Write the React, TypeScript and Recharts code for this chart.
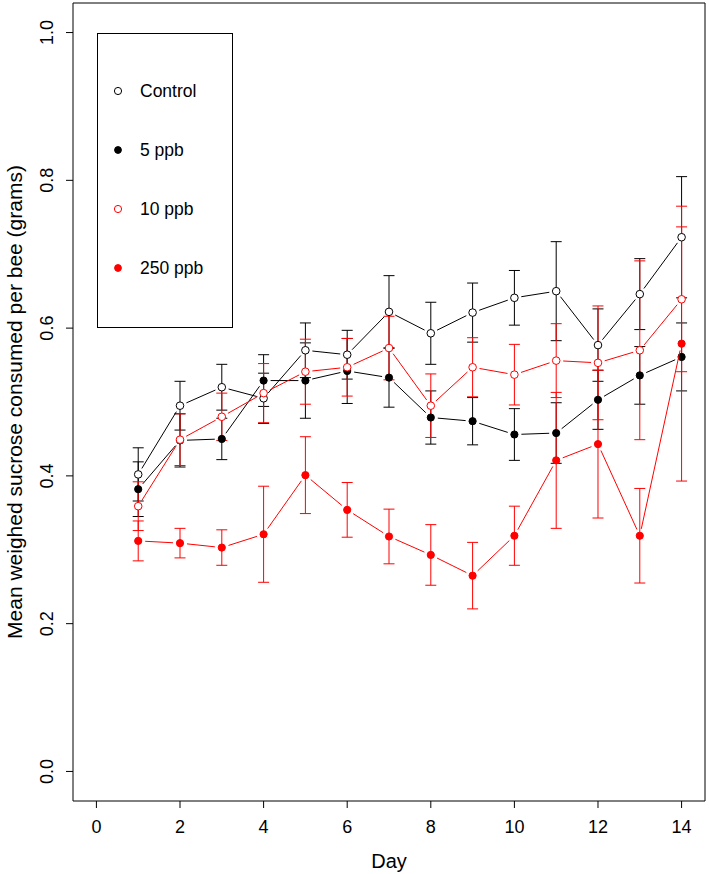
import React from 'react'
import { LineChart, Line, XAxis, YAxis, ErrorBar, Legend, ReferenceArea } from 'recharts'

const days = [1, 2, 3, 4, 5, 6, 7, 8, 9, 10, 11, 12, 13, 14]

const controlMean = [0.402, 0.495, 0.52, 0.505, 0.57, 0.564, 0.622, 0.593, 0.621, 0.641, 0.65, 0.577, 0.646, 0.723]
const controlSe = [0.036, 0.033, 0.031, 0.034, 0.037, 0.033, 0.049, 0.042, 0.04, 0.037, 0.067, 0.049, 0.048, 0.082]

const ppb5Mean = [0.382, 0.448, 0.45, 0.529, 0.529, 0.542, 0.533, 0.479, 0.474, 0.456, 0.458, 0.503, 0.536, 0.561]
const ppb5Se = [0.037, 0.036, 0.028, 0.035, 0.051, 0.044, 0.04, 0.036, 0.032, 0.035, 0.041, 0.04, 0.039, 0.046]

const ppb10Mean = [0.359, 0.449, 0.48, 0.512, 0.541, 0.547, 0.573, 0.495, 0.547, 0.537, 0.556, 0.553, 0.57, 0.639]
const ppb10Se = [0.033, 0.035, 0.032, 0.04, 0.044, 0.039, 0.043, 0.043, 0.04, 0.041, 0.05, 0.077, 0.121, 0.098]

const ppb250Mean = [0.312, 0.309, 0.303, 0.321, 0.401, 0.354, 0.318, 0.293, 0.265, 0.319, 0.421, 0.443, 0.319, 0.579]
const ppb250Se = [0.027, 0.02, 0.024, 0.065, 0.052, 0.037, 0.037, 0.041, 0.045, 0.04, 0.092, 0.1, 0.064, 0.186]

const xTicks = [0, 2, 4, 6, 8, 10, 12, 14]
const yTicks = [0, 0.2, 0.4, 0.6, 0.8, 1.0]

const series = [
  { key: 'control', name: 'Control', color: '#000000', filled: false, mean: controlMean, se: controlSe },
  { key: 'ppb5', name: '5 ppb', color: '#000000', filled: true, mean: ppb5Mean, se: ppb5Se },
  { key: 'ppb10', name: '10 ppb', color: '#ff0000', filled: false, mean: ppb10Mean, se: ppb10Se },
  { key: 'ppb250', name: '250 ppb', color: '#ff0000', filled: true, mean: ppb250Mean, se: ppb250Se },
]

const data = days.map((day, i) => {
  const row: Record<string, number> = { day }
  series.forEach((s) => {
    row[s.key] = s.mean[i]
    row[s.key + 'Err'] = s.se[i]
  })
  return row
})

const FONT = '"Liberation Sans", Arial, Helvetica, sans-serif'

// R style type="b": segments stop short of each point
const makeDot = (color: string, filled: boolean) => (props: any) => {
  const { cx, cy, index, points } = props
  const gap = 7
  let seg = null
  if (points && index < points.length - 1) {
    const nx = points[index + 1].x
    const ny = points[index + 1].y
    const dx = nx - cx
    const dy = ny - cy
    const len = Math.hypot(dx, dy)
    if (len > gap * 2) {
      seg = (
        <line
          x1={cx + (dx / len) * gap}
          y1={cy + (dy / len) * gap}
          x2={nx - (dx / len) * gap}
          y2={ny - (dy / len) * gap}
          stroke={color}
          strokeWidth={1}
        />
      )
    }
  }
  return (
    <g key={`dot-${index}`}>
      {seg}
      <circle cx={cx} cy={cy} r={filled ? 3.6 : 3.8} fill={filled ? color : '#fff'} stroke={color} strokeWidth={1} />
    </g>
  )
}

const YTick = (props: any) => {
  const { x, y, payload } = props
  return (
    <text
      transform={`translate(${x}, ${y}) rotate(-90)`}
      textAnchor="middle"
      fontSize={18}
      fontFamily={FONT}
      fill="#000"
    >
      {Number(payload.value).toFixed(1)}
    </text>
  )
}

const renderLegend = (props: any) => {
  const payload = props.payload || []
  return (
    <svg width={136} height={295} style={{ display: 'block' }}>
      <rect x={0.5} y={0.5} width={135} height={294} fill="#fff" stroke="#000" strokeWidth={1} />
      {series.map((s, i) => {
        const entry = payload.find((p: any) => p.value === s.name)
        const cy = 58 + i * 59
        return (
          <g key={s.key}>
            <circle cx={21} cy={cy} r={s.filled ? 3.4 : 3.6} fill={s.filled ? s.color : '#fff'} stroke={s.color} />
            <text x={43} y={cy + 6} fontSize={17.5} fontFamily={FONT} fill="#000">
              {entry ? entry.value : s.name}
            </text>
          </g>
        )
      })}
    </svg>
  )
}

export default function App() {
  return (
    <div style={{ position: 'absolute', left: 0, top: 0, background: '#fff' }}>
      <LineChart width={709} height={874} data={data} margin={{ top: 3, right: 4, bottom: 0, left: 0 }}>
        <ReferenceArea x1={-0.56} x2={14.56} y1={-0.04} y2={1.04} fill="none" stroke="#000" strokeWidth={1} />
        <XAxis
          dataKey="day"
          type="number"
          domain={[-0.56, 14.56]}
          ticks={xTicks}
          height={73}
          axisLine={false}
          tickLine={{ stroke: '#000' }}
          tickSize={7}
          tickMargin={12}
          tick={{ fontSize: 18, fill: '#000', fontFamily: FONT }}
          allowDataOverflow
          label={{ value: 'Day', position: 'center', dy: 23, style: { fontSize: 20, fill: '#000', fontFamily: FONT } }}
        />
        <YAxis
          type="number"
          domain={[-0.04, 1.04]}
          ticks={yTicks}
          width={73}
          axisLine={false}
          tickLine={{ stroke: '#000' }}
          tickSize={7}
          tickMargin={13}
          tick={<YTick />}
          allowDataOverflow
          label={{
            value: 'Mean weighed sucrose consumed per bee (grams)',
            angle: -90,
            position: 'center',
            dx: -22,
            style: { fontSize: 21, fill: '#000', fontFamily: FONT, textAnchor: 'middle' },
          }}
        />
        <Legend
          layout="vertical"
          align="center"
          verticalAlign="middle"
          content={renderLegend}
          wrapperStyle={{ left: 97, top: 33, width: 136, height: 295 }}
        />
        {series.map((s) => (
          <Line
            key={s.key}
            dataKey={s.key}
            name={s.name}
            stroke="none"
            strokeWidth={0}
            dot={makeDot(s.color, s.filled)}
            activeDot={false}
            isAnimationActive={false}
            legendType="circle"
          >
            <ErrorBar dataKey={s.key + 'Err'} direction="y" width={5.5} stroke={s.color} strokeWidth={1} />
          </Line>
        ))}
      </LineChart>
    </div>
  )
}
